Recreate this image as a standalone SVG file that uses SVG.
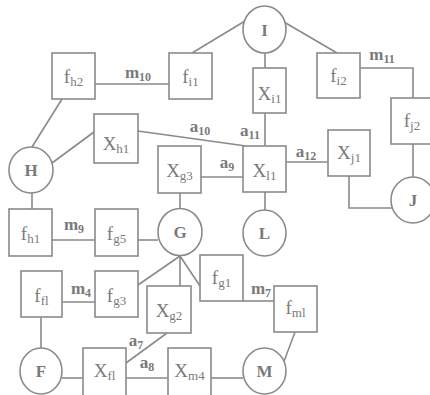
<svg xmlns="http://www.w3.org/2000/svg" width="430" height="395" viewBox="0 0 430 395">
<style>
.b{fill:#fff;stroke:#8a8a8a;stroke-width:1.6}
.c{fill:none;stroke:#8a8a8a;stroke-width:1.6}
.t{font-family:"Liberation Serif","DejaVu Serif",serif;font-size:19px;fill:#7a7a7a;text-anchor:middle}
.s{font-size:13px}
.k{font-family:"Liberation Serif","DejaVu Serif",serif;font-size:17px;font-weight:bold;fill:#7a7a7a;text-anchor:middle}
.l{font-family:"Liberation Serif","DejaVu Serif",serif;font-size:17px;font-weight:bold;fill:#7a7a7a;text-anchor:middle}
.ls{font-size:12px}
</style>
<rect width="430" height="395" fill="#fff"/>
<g id="connectors">
<line class="c" x1="245" y1="21" x2="192" y2="53"/>
<line class="c" x1="265" y1="53" x2="265" y2="68"/>
<line class="c" x1="284" y1="22" x2="337" y2="53"/>
<line class="c" x1="95" y1="84" x2="169" y2="84"/>
<polyline class="c" points="360,68 413,68 413,98"/>
<line class="c" x1="62" y1="99" x2="32" y2="147"/>
<line class="c" x1="52" y1="163" x2="94" y2="132"/>
<line class="c" x1="138" y1="131" x2="246" y2="146"/>
<line class="c" x1="265" y1="113" x2="265" y2="146"/>
<line class="c" x1="201" y1="177" x2="243" y2="177"/>
<line class="c" x1="286" y1="162" x2="328" y2="162"/>
<line class="c" x1="413" y1="144" x2="413" y2="177"/>
<polyline class="c" points="349,176 349,208 392,208"/>
<line class="c" x1="265" y1="192" x2="265" y2="210"/>
<line class="c" x1="32" y1="193" x2="32" y2="209"/>
<line class="c" x1="52" y1="240" x2="95" y2="240"/>
<line class="c" x1="138" y1="240" x2="158" y2="240"/>
<line class="c" x1="180" y1="193" x2="180" y2="208"/>
<line class="c" x1="180" y1="256" x2="138" y2="285"/>
<line class="c" x1="180" y1="256" x2="180" y2="286"/>
<line class="c" x1="180" y1="256" x2="200" y2="286"/>
<line class="c" x1="62" y1="302" x2="95" y2="302"/>
<line class="c" x1="41" y1="317" x2="41" y2="348"/>
<line class="c" x1="243" y1="301" x2="274" y2="301"/>
<line class="c" x1="295" y1="332" x2="283" y2="364"/>
<line class="c" x1="62" y1="378" x2="83" y2="378"/>
<line class="c" x1="167" y1="333" x2="126" y2="363"/>
<line class="c" x1="126" y1="378" x2="168" y2="378"/>
<line class="c" x1="211" y1="378" x2="243" y2="378"/>
<text class="l" x="138" y="78">m<tspan class="ls" dy="3">10</tspan></text>
<text class="l" x="382" y="60">m<tspan class="ls" dy="3">11</tspan></text>
<text class="l" x="200" y="132">a<tspan class="ls" dy="3">10</tspan></text>
<text class="l" x="250" y="136">a<tspan class="ls" dy="3">11</tspan></text>
<text class="l" x="227" y="168">a<tspan class="ls" dy="3">9</tspan></text>
<text class="l" x="306" y="157">a<tspan class="ls" dy="3">12</tspan></text>
<text class="l" x="74" y="230">m<tspan class="ls" dy="3">9</tspan></text>
<text class="l" x="81" y="294">m<tspan class="ls" dy="3">4</tspan></text>
<text class="l" x="261" y="294">m<tspan class="ls" dy="3">7</tspan></text>
<text class="l" x="136" y="346">a<tspan class="ls" dy="3">7</tspan></text>
<text class="l" x="147" y="368">a<tspan class="ls" dy="3">8</tspan></text>
</g>
<g id="I"><ellipse class="b" cx="264.5" cy="29.5" rx="21.5" ry="23.5"/><text class="k" x="264.5" y="35.5">I</text></g>
<g id="H"><ellipse class="b" cx="31" cy="170" rx="22" ry="23"/><text class="k" x="31" y="176">H</text></g>
<g id="G"><ellipse class="b" cx="180" cy="232" rx="22" ry="23.5"/><text class="k" x="180" y="238">G</text></g>
<g id="L"><ellipse class="b" cx="264.5" cy="233" rx="21.5" ry="23"/><text class="k" x="264.5" y="239">L</text></g>
<g id="J"><ellipse class="b" cx="413" cy="200" rx="22" ry="23"/><text class="k" x="413" y="206">J</text></g>
<g id="F"><ellipse class="b" cx="41" cy="371" rx="21" ry="23"/><text class="k" x="41" y="377">F</text></g>
<g id="M"><ellipse class="b" cx="264.5" cy="371" rx="21.5" ry="23"/><text class="k" x="264.5" y="377">M</text></g>
<g id="fh2"><rect class="b" x="52" y="53" width="43" height="46"/><text class="t" x="73.5" y="83">f<tspan class="s" dy="3">h2</tspan></text></g>
<g id="fi1"><rect class="b" x="169" y="53" width="43" height="46"/><text class="t" x="190.5" y="83">f<tspan class="s" dy="3">i1</tspan></text></g>
<g id="fi2"><rect class="b" x="317" y="53" width="43" height="45"/><text class="t" x="338.5" y="82">f<tspan class="s" dy="3">i2</tspan></text></g>
<g id="xi1"><rect class="b" x="253" y="68" width="33" height="45"/><text class="t" x="269.5" y="100">X<tspan class="s" dy="3">i1</tspan></text></g>
<g id="fj2"><rect class="b" x="391" y="98" width="44" height="46"/><text class="t" x="412" y="127">f<tspan class="s" dy="3">j2</tspan></text></g>
<g id="xh1"><rect class="b" x="94" y="114" width="44" height="49"/><text class="t" x="116" y="150">X<tspan class="s" dy="3">h1</tspan></text></g>
<g id="xg3"><rect class="b" x="158" y="146" width="43" height="47"/><text class="t" x="179.5" y="177">X<tspan class="s" dy="3">g3</tspan></text></g>
<g id="xl1"><rect class="b" x="243" y="146" width="43" height="46"/><text class="t" x="264.5" y="177">X<tspan class="s" dy="3">l1</tspan></text></g>
<g id="xj1"><rect class="b" x="328" y="130" width="42" height="46"/><text class="t" x="349" y="159">X<tspan class="s" dy="3">j1</tspan></text></g>
<g id="fh1"><rect class="b" x="9" y="209" width="43" height="47"/><text class="t" x="30.5" y="240">f<tspan class="s" dy="3">h1</tspan></text></g>
<g id="fg5"><rect class="b" x="95" y="209" width="43" height="47"/><text class="t" x="116.5" y="240">f<tspan class="s" dy="3">g5</tspan></text></g>
<g id="fg1"><rect class="b" x="200" y="255" width="43" height="46"/><text class="t" x="221.5" y="284">f<tspan class="s" dy="3">g1</tspan></text></g>
<g id="ffl"><rect class="b" x="21" y="271" width="41" height="46"/><text class="t" x="41.5" y="302">f<tspan class="s" dy="3">fl</tspan></text></g>
<g id="fg3"><rect class="b" x="95" y="271" width="43" height="46"/><text class="t" x="116.5" y="302">f<tspan class="s" dy="3">g3</tspan></text></g>
<g id="xg2"><rect class="b" x="147" y="286" width="44" height="47"/><text class="t" x="169" y="317">X<tspan class="s" dy="3">g2</tspan></text></g>
<g id="fml"><rect class="b" x="274" y="286" width="43" height="46"/><text class="t" x="295.5" y="314">f<tspan class="s" dy="3">ml</tspan></text></g>
<g id="xfl"><rect class="b" x="83" y="348" width="43" height="49"/><text class="t" x="104.5" y="377">X<tspan class="s" dy="3">fl</tspan></text></g>
<g id="xm4"><rect class="b" x="168" y="348" width="43" height="49"/><text class="t" x="189.5" y="377">X<tspan class="s" dy="3">m4</tspan></text></g>
</svg>
